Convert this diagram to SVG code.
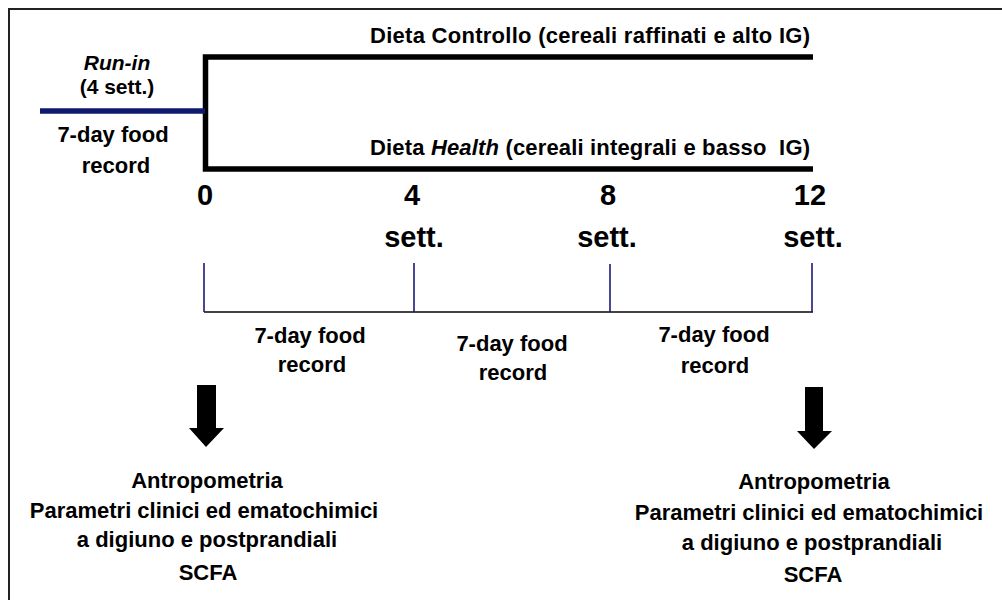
<svg xmlns="http://www.w3.org/2000/svg" width="1002" height="600" viewBox="0 0 1002 600">
<style>
text{font-family:"Liberation Sans",Arial,sans-serif;font-weight:bold;fill:#000}
.t21{font-size:21px}
.t22{font-size:22px}
.t29{font-size:29px}
.m{text-anchor:middle}
.it{font-style:italic}
.thick{stroke:#000;stroke-width:5.5;fill:none}
.tick{stroke:#1a1a78;stroke-width:1.6}
</style>
<rect width="1002" height="600" fill="#fff"/>
<path d="M9,600 V9 H1002" fill="none" stroke="#222" stroke-width="2"/>
<g id="connectors">
  <path class="thick" d="M813,57 H205.5 V169 H813"/>
  <line x1="40" y1="111" x2="205" y2="111" stroke="#0f1a6e" stroke-width="5.5"/>
  <line x1="204" y1="312" x2="813" y2="312" stroke="#444" stroke-width="2"/>
  <line class="tick" x1="204" y1="263" x2="204" y2="312"/>
  <line class="tick" x1="414" y1="263" x2="414" y2="312"/>
  <line class="tick" x1="610" y1="264" x2="610" y2="312"/>
  <line class="tick" x1="812" y1="263" x2="812" y2="312"/>
  <polygon points="197,385 216,385 216,428 224,428 206,447 189,428 197,428" fill="#000"/>
  <polygon points="805,387 823,387 823,431 832,431 814,449 797,431 805,431" fill="#000"/>
</g>
<g id="runin">
  <text class="t21 m it" x="117" y="70">Run-in</text>
  <text class="t21 m" x="117" y="94">(4 sett.)</text>
  <text class="t22 m" x="113" y="142">7-day food</text>
  <text class="t22 m" x="116" y="173">record</text>
</g>
<g id="control">
  <text class="t22" x="370" y="43" textLength="440">Dieta Controllo (cereali raffinati e alto IG)</text>
</g>
<g id="health">
  <text class="t22" x="370" y="155" textLength="440" xml:space="preserve">Dieta <tspan class="it">Health</tspan> (cereali integrali e basso  IG)</text>
</g>
<g id="t0"><text class="t29 m" x="205" y="205">0</text></g>
<g id="t4"><text class="t29 m" x="412" y="205">4</text><text class="t29 m" x="414" y="247">sett.</text></g>
<g id="t8"><text class="t29 m" x="608" y="205">8</text><text class="t29 m" x="607" y="247">sett.</text></g>
<g id="t12"><text class="t29 m" x="810" y="205">12</text><text class="t29 m" x="813" y="247">sett.</text></g>
<g id="rec1"><text class="t22 m" x="310" y="343">7-day food</text><text class="t22 m" x="312" y="372">record</text></g>
<g id="rec2"><text class="t22 m" x="512" y="351">7-day food</text><text class="t22 m" x="513" y="380">record</text></g>
<g id="rec3"><text class="t22 m" x="714" y="342">7-day food</text><text class="t22 m" x="715" y="373">record</text></g>
<g id="out0">
  <text class="t22 m" x="207" y="488">Antropometria</text>
  <text class="t22 m" x="204" y="518">Parametri clinici ed ematochimici</text>
  <text class="t22 m" x="207" y="547">a digiuno e postprandiali</text>
  <text class="t22 m" x="208" y="580">SCFA</text>
</g>
<g id="out12">
  <text class="t22 m" x="814" y="489">Antropometria</text>
  <text class="t22 m" x="809" y="520">Parametri clinici ed ematochimici</text>
  <text class="t22 m" x="812" y="550">a digiuno e postprandiali</text>
  <text class="t22 m" x="813" y="582">SCFA</text>
</g>
</svg>
